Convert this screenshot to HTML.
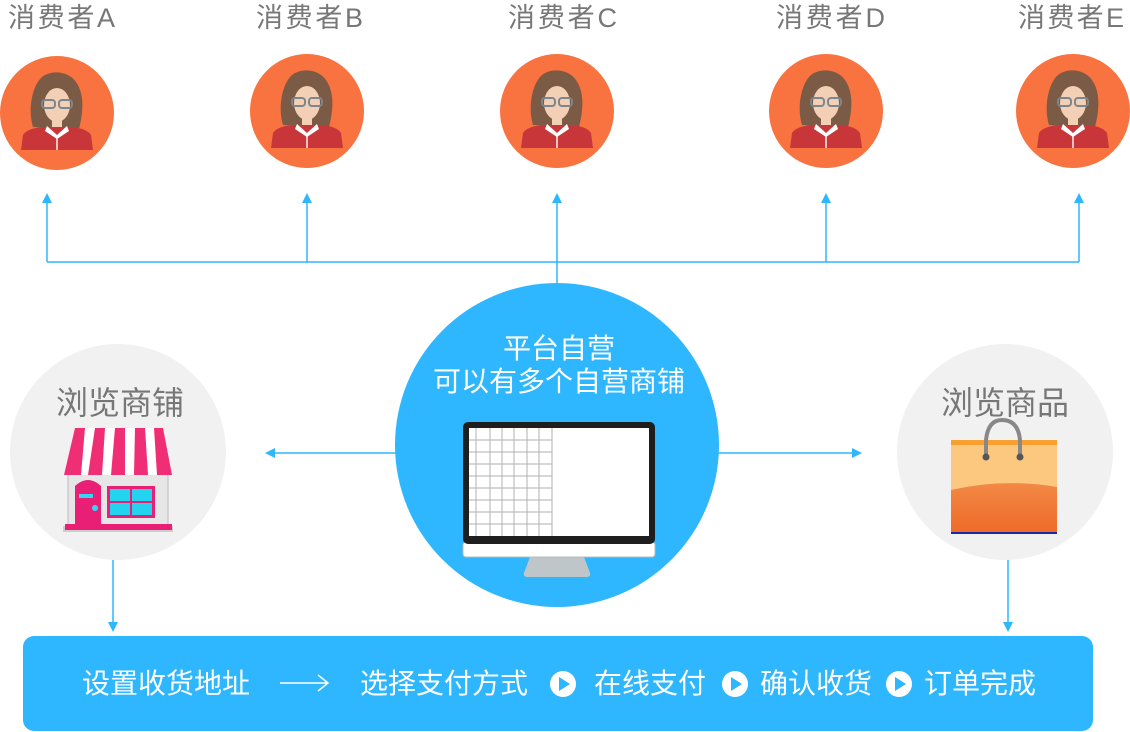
<!DOCTYPE html>
<html><head><meta charset="utf-8"><style>
body{margin:0;background:#fff;}
svg{display:block;}
text{font-family:"Liberation Sans","Noto Sans CJK SC",sans-serif;}
</style></head><body>
<svg width="1130" height="732" viewBox="0 0 1130 732" xmlns="http://www.w3.org/2000/svg">
<defs>
<g id="av">
<circle r="57" fill="#f87340"/>
<path d="M-24,14 C-30,-5 -24,-32 -12,-38 C-2,-43 12,-41 19,-31 C28,-18 26,0 22,16 Z" fill="#7b5b45"/>
<ellipse cx="0" cy="-8" rx="13" ry="17" fill="#f3d0b5"/>
<path d="M-13,-22 C-8,-34 10,-34 14,-22 C6,-28 -4,-28 -13,-22Z" fill="#7b5b45"/>
<rect x="-15" y="-13" width="13" height="8" rx="3" fill="none" stroke="#7a8790" stroke-width="2"/>
<rect x="2" y="-13" width="13" height="8" rx="3" fill="none" stroke="#7a8790" stroke-width="2"/>
<rect x="-5" y="6" width="10" height="10" fill="#f3d0b5"/>
<path d="M-36,37 L-34,22 C-30,16 -20,14 -10,14 L10,14 C20,14 30,16 34,22 L36,37 Z" fill="#c8363a"/>
<path d="M-10,13 L0,22 L10,13 L12,18 L0,26 L-12,18Z" fill="#fff"/>
<rect x="-0.7" y="22" width="1.4" height="15" fill="#fff"/>
</g>
<marker id="ah" markerWidth="10" markerHeight="10" refX="5" refY="5" orient="auto" markerUnits="userSpaceOnUse"><path d="M0,0 L10,5 L0,10Z" fill="#2eb7fe"/></marker>
<linearGradient id="bag" x1="0" y1="0" x2="0" y2="1"><stop offset="0" stop-color="#f6a25e"/><stop offset="1" stop-color="#ef6a28"/></linearGradient>
</defs>

<g fill="#777" font-size="27">
<text x="8" y="27" textLength="107">消费者A</text>
<text x="256" y="27" textLength="107">消费者B</text>
<text x="508" y="27" textLength="109">消费者C</text>
<text x="776" y="27" textLength="109">消费者D</text>
<text x="1018" y="27" textLength="106">消费者E</text>
</g>
<use href="#av" x="57" y="113"/>
<use href="#av" x="307" y="111"/>
<use href="#av" x="557" y="111"/>
<use href="#av" x="826" y="111"/>
<use href="#av" x="1073" y="111"/>

<g stroke="#2eb7fe" stroke-width="1.5" fill="none">
<path d="M47,262 H1079 M557,262 V284"/>
<line x1="47" y1="262" x2="47" y2="198" marker-end="url(#ah)"/>
<line x1="307" y1="262" x2="307" y2="198" marker-end="url(#ah)"/>
<line x1="557" y1="262" x2="557" y2="198" marker-end="url(#ah)"/>
<line x1="826" y1="262" x2="826" y2="198" marker-end="url(#ah)"/>
<line x1="1079" y1="262" x2="1079" y2="198" marker-end="url(#ah)"/>
<line x1="397" y1="453" x2="270" y2="453" marker-end="url(#ah)"/>
<line x1="718" y1="453" x2="857" y2="453" marker-end="url(#ah)"/>
<line x1="113" y1="560" x2="113" y2="627" marker-end="url(#ah)"/>
<line x1="1008" y1="560" x2="1008" y2="627" marker-end="url(#ah)"/>
</g>

<circle cx="557" cy="445" r="162" fill="#2eb7fe"/>
<g fill="#fff" font-size="28" text-anchor="middle">
<text x="559" y="358">平台自营</text>
<text x="559" y="391">可以有多个自营商铺</text>
</g>
<!-- monitor -->
<path d="M530,557 L584,557 L590,573 Q591,577 586,577 L528,577 Q523,577 524,573Z" fill="#bfc6ca"/>
<rect x="463" y="542" width="192" height="15" rx="3" fill="#fff" stroke="#bbb"/>
<rect x="463" y="422" width="192" height="122" rx="5" fill="#1e1e1e"/>
<rect x="469" y="428" width="180" height="108" fill="#fff"/>
<g stroke="#b0b0b0" stroke-width="1">
<path d="M476,428V536 M490,428V536 M502,428V536 M514,428V536 M527,428V536 M539,428V536 M552,428V536"/>
<path d="M469,440H552 M469,452H552 M469,464H552 M469,476H552 M469,488H552 M469,500H552 M469,512H552 M469,524H552"/>
</g>

<!-- left circle -->
<circle cx="118" cy="452" r="108" fill="#f1f1f1"/>
<text x="120" y="414" fill="#777" font-size="32" text-anchor="middle">浏览商铺</text>
<rect x="63" y="526" width="110" height="6" fill="#ccc"/>
<rect x="68" y="470" width="100" height="56" fill="#e6e6e6" stroke="#bbb"/>
<path d="M75,428 L163,428 L172,475 L64,475Z" fill="#fff"/>
<g fill="#ef2e76">
<path d="M75,428 L85,428 L81,475 L64,475Z"/>
<path d="M95,428 L105,428 L102,475 L88,475Z"/>
<path d="M115,428 L125,428 L125,475 L111,475Z"/>
<path d="M135,428 L145,428 L148,475 L134,475Z"/>
<path d="M154,428 L163,428 L172,475 L157,475Z"/>
</g>
<path d="M75,486 Q88,474 101,486 V524 H75Z" fill="#e91e75"/>
<rect x="79" y="494" width="14" height="4" fill="#33d6f2"/>
<circle cx="95" cy="508" r="3" fill="#33d6f2"/>
<rect x="107" y="486" width="48" height="32" fill="#e91e75"/>
<rect x="110" y="489" width="20" height="12" fill="#22d4ef"/>
<rect x="132" y="489" width="20" height="12" fill="#22d4ef"/>
<rect x="110" y="503" width="20" height="12" fill="#22d4ef"/>
<rect x="132" y="503" width="20" height="12" fill="#22d4ef"/>
<rect x="65" y="524" width="107" height="6" fill="#e91e75"/>

<!-- right circle -->
<circle cx="1005" cy="452" r="108" fill="#f1f1f1"/>
<text x="1005" y="414" fill="#777" font-size="32" text-anchor="middle">浏览商品</text>
<rect x="951" y="441" width="106" height="92" fill="url(#bag)"/>
<path d="M951,441 H1057 V487 Q1004,478 951,490Z" fill="#fcc880"/>
<rect x="951" y="440" width="106" height="5" fill="#f8a030"/>
<rect x="951" y="532" width="106" height="2" fill="#1a2aa8"/>
<path d="M986,456 V440 Q988,420 1002,420 Q1018,420 1020,440 V456" fill="none" stroke="#888" stroke-width="4"/>
<circle cx="986" cy="457" r="3.5" fill="#555"/>
<circle cx="1020" cy="457" r="3.5" fill="#555"/>

<!-- bottom bar -->
<rect x="23" y="636" width="1070" height="95" rx="11" fill="#2eb7fe"/>
<g fill="#fff" font-size="28">
<text x="82" y="693" textLength="168">设置收货地址</text>
<text x="360" y="693" textLength="168">选择支付方式</text>
<text x="594" y="693" textLength="112">在线支付</text>
<text x="760" y="693" textLength="112">确认收货</text>
<text x="924" y="693" textLength="112">订单完成</text>
</g>
<path d="M280,683 H328 M318,675 L328,683 L318,691" stroke="#fff" stroke-width="1.5" fill="none"/>
<g fill="#fff">
<circle cx="563" cy="684" r="13"/><circle cx="735" cy="684" r="13"/><circle cx="899" cy="684" r="13"/>
</g>
<g fill="#2eb7fe">
<path d="M559,677 L570,684 L559,691Z"/><path d="M731,677 L742,684 L731,691Z"/><path d="M895,677 L906,684 L895,691Z"/>
</g>
</svg>
</body></html>
